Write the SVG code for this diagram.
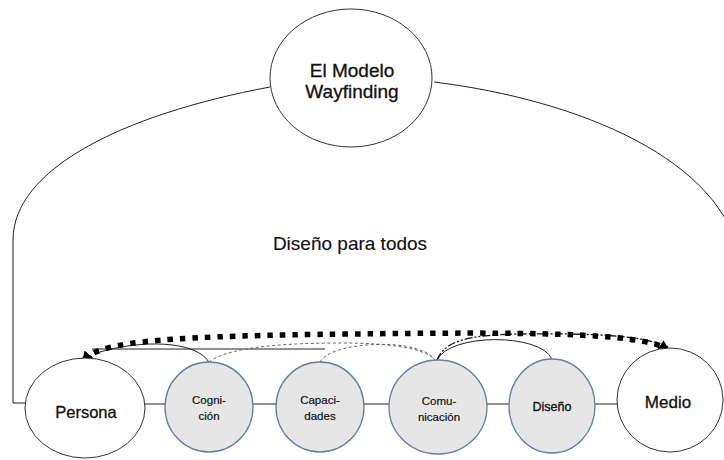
<svg xmlns="http://www.w3.org/2000/svg" width="724" height="460" viewBox="0 0 724 460">
<defs>
<style>
.txt{font-family:"Liberation Sans",Arial,sans-serif;fill:#111;stroke:#111;stroke-width:0.3;text-anchor:middle}
.big{fill:#fff;stroke:#333;stroke-width:1}
.sm{fill:#e6e6e6;stroke:#6b7b99;stroke-width:1.3}
.ln{fill:none;stroke:#222;stroke-width:1}
</style>
<marker id="ah" viewBox="0 0 10 10" refX="7" refY="5" markerWidth="2" markerHeight="2" orient="auto-start-reverse" markerUnits="strokeWidth">
<path d="M0,0 L10,5 L0,10 z" fill="#000"/>
</marker>
</defs>
<rect width="724" height="460" fill="#fff"/>
<g id="connectors">
<path class="ln" d="M270 87 C120 115 13 170 13 240 L13 403 L25 403"/>
<path class="ln" d="M434 82 C580 100 724 160 740 260"/>
<path class="ln" d="M145 404 L166 404 M253 404 L277 404 M364 404 L389 404 M487 404 L509 404 M595 404 L617 404"/>
<path class="ln" d="M92 349 L325 349"/>
<path class="ln" d="M209 362 C195 340 140 340 100 352"/>
<path class="ln" d="M437 360 C450 333 540 333 552 359"/>
<path fill="none" stroke="#666" stroke-width="1" stroke-dasharray="3 2.5" d="M209 362 C230 345 300 343 340 343 C390 343 425 348 435 360"/>
<path fill="none" stroke="#666" stroke-width="1" stroke-dasharray="3 2.5" d="M320 362 C330 345 380 342 405 346 C420 349 430 353 434 359"/>
<path fill="none" stroke="#111" stroke-width="1.3" stroke-dasharray="8 2 2 2 2 2" d="M437 360 C445 340 470 335 520 334 C600 333 650 336 667 348"/>
<path fill="none" stroke="#000" stroke-width="5.5" stroke-dasharray="5.5 7" marker-start="url(#ah)" marker-end="url(#ah)" d="M84 360 C100 340 180 336 350 334 C520 332 640 332 667 349"/>
</g>
<g id="n_modelo">
<ellipse class="big" cx="351" cy="78" rx="81" ry="69"/>
<text class="txt" x="352" y="77" font-size="19">El Modelo</text>
<text class="txt" x="352" y="98" font-size="19">Wayfinding</text>
</g>
<g id="n_lema">
<text class="txt" x="350" y="250" font-size="19" style="stroke-width:0.15">Diseño para todos</text>
</g>
<g id="n_persona">
<ellipse class="big" cx="85" cy="408" rx="60" ry="50"/>
<text class="txt" x="86" y="418" font-size="16.5">Persona</text>
</g>
<g id="n_cognicion">
<ellipse class="sm" cx="209" cy="407" rx="44" ry="45"/>
<text class="txt" x="209" y="404" font-size="11.5" style="stroke-width:0.2">Cogni-</text>
<text class="txt" x="209" y="420" font-size="11.5" style="stroke-width:0.2">ción</text>
</g>
<g id="n_capacidades">
<ellipse class="sm" cx="320" cy="407" rx="44" ry="45"/>
<text class="txt" x="320" y="404" font-size="11.5" style="stroke-width:0.2">Capaci-</text>
<text class="txt" x="320" y="420" font-size="11.5" style="stroke-width:0.2">dades</text>
</g>
<g id="n_comunicacion">
<ellipse class="sm" cx="438" cy="407" rx="49" ry="47"/>
<text class="txt" x="439" y="405" font-size="11.5" style="stroke-width:0.2">Comu-</text>
<text class="txt" x="439" y="421" font-size="11.5" style="stroke-width:0.2">nicación</text>
</g>
<g id="n_diseno">
<ellipse class="sm" cx="552" cy="406" rx="43" ry="47"/>
<text class="txt" x="552" y="411" font-size="12.5" style="stroke-width:0.35">Diseño</text>
</g>
<g id="n_medio">
<ellipse class="big" cx="670" cy="400" rx="53" ry="52"/>
<text class="txt" x="668" y="408" font-size="17">Medio</text>
</g>
</svg>
